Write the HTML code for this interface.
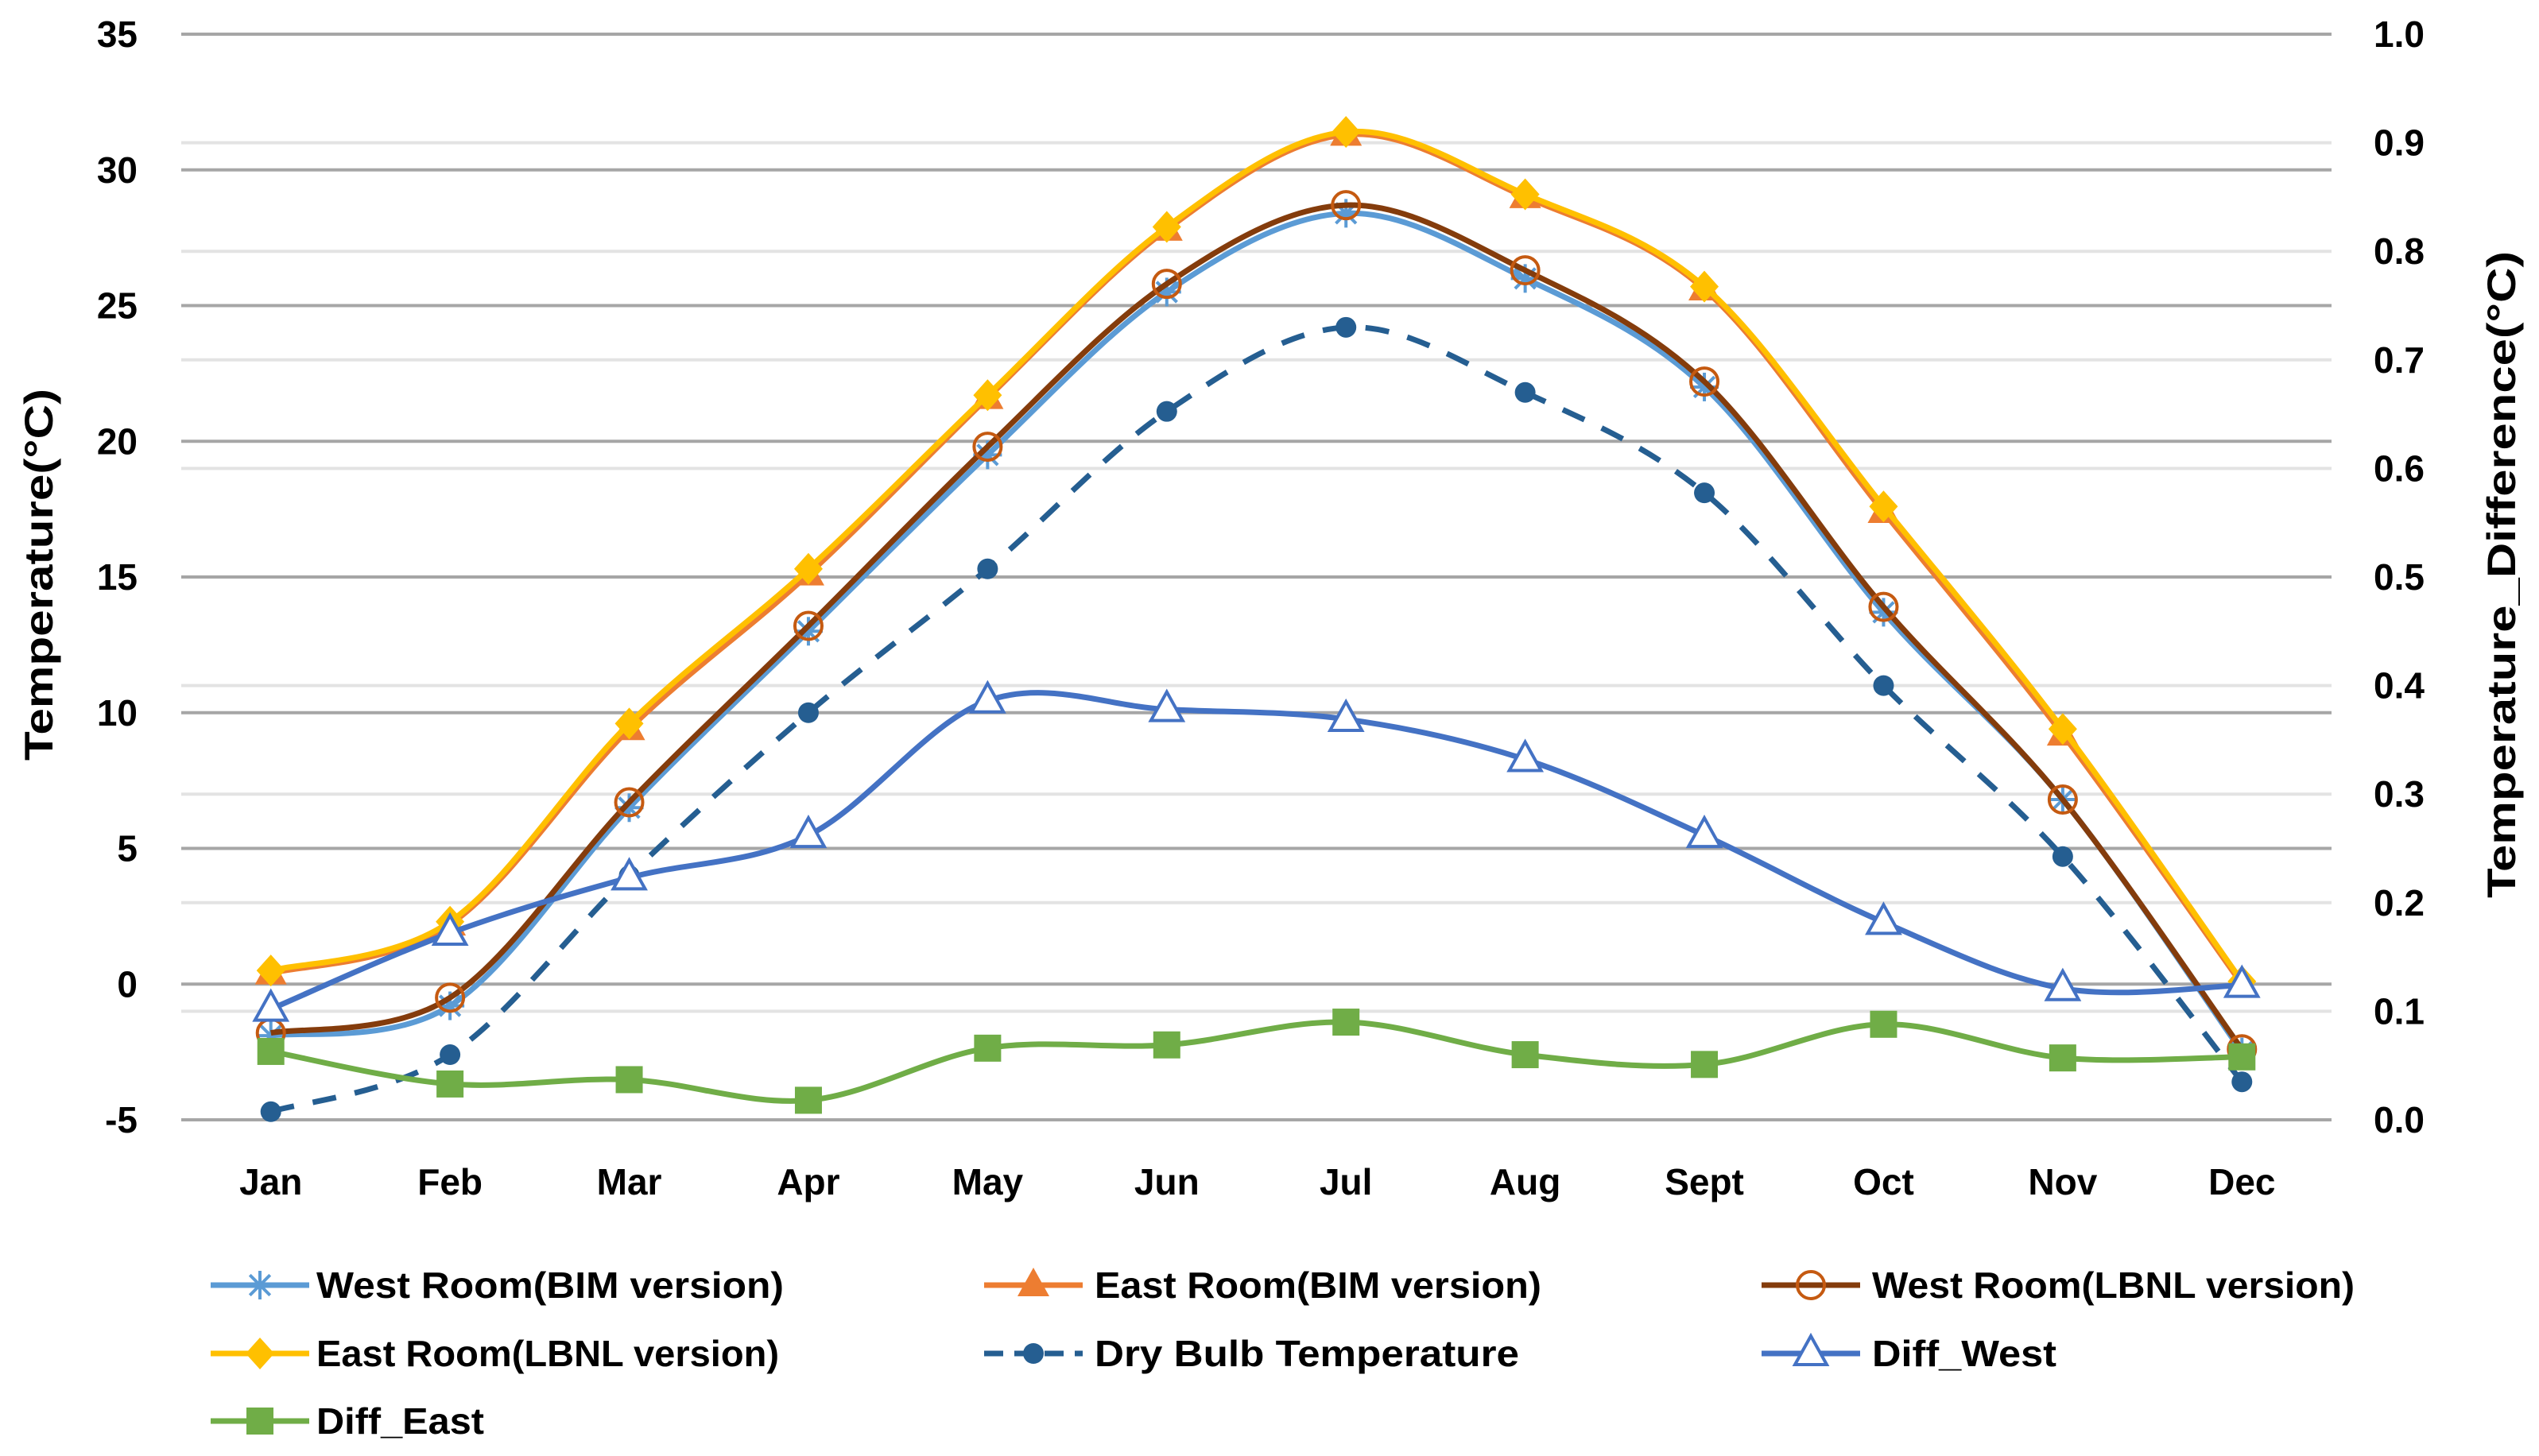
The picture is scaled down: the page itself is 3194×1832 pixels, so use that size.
<!DOCTYPE html>
<html><head><meta charset="utf-8"><style>
html,body{margin:0;padding:0;background:#fff;}
svg{display:block;font-family:"Liberation Sans",sans-serif;font-weight:bold;}
</style></head><body>
<svg id="chart" width="3194" height="1832" viewBox="0 0 3194 1832" xmlns="http://www.w3.org/2000/svg">
<g id="grid"></g>
<g id="axes"></g>
<g id="series"></g>
<g id="legend"></g>
<text x="0" y="0" transform="translate(66,723) rotate(-90)" text-anchor="middle" font-size="50" textLength="468" lengthAdjust="spacingAndGlyphs">Temperature(°C)</text>
<text x="0" y="0" transform="translate(3164,723) rotate(-90)" text-anchor="middle" font-size="50" textLength="814" lengthAdjust="spacingAndGlyphs">Temperature_Difference(°C)</text>
</svg>
<script>
const months = ["Jan","Feb","Mar","Apr","May","Jun","Jul","Aug","Sept","Oct","Nov","Dec"];
const westBIM = [-1.9,-0.8,6.5,13.0,19.5,25.5,28.4,26.0,22.0,13.7,6.8,-2.5];
const eastBIM = [0.4,2.2,9.4,15.1,21.6,27.8,31.3,29.0,25.6,17.4,9.2,0.0];
const westLBNL = [-1.8,-0.5,6.7,13.2,19.8,25.8,28.7,26.3,22.2,13.9,6.8,-2.4];
const eastLBNL = [0.5,2.3,9.6,15.3,21.7,27.9,31.4,29.1,25.7,17.6,9.4,0.1];
const dryBulb = [-4.7,-2.6,4.0,10.0,15.3,21.1,24.2,21.8,18.1,11.0,4.7,-3.6];
const diffWest = [0.102,0.172,0.223,0.262,0.386,0.378,0.369,0.332,0.262,0.182,0.121,0.124];
const diffEast = [0.063,0.033,0.037,0.018,0.066,0.069,0.090,0.060,0.051,0.088,0.057,0.058];
const leftTicks = [-5,0,5,10,15,20,25,30,35];
const rightTicks = [0.0,0.1,0.2,0.3,0.4,0.5,0.6,0.7,0.8,0.9,1.0];

const NS="http://www.w3.org/2000/svg";
const PL=228, PR=2933, PT=43, PB=1409;
const band=(PR-PL)/months.length;
const xs=i=>PL+band*(i+0.5);
const yL=v=>PB-(v-(-5))/40*(PB-PT);
const yR=v=>PB-v/1.0*(PB-PT);
function mk(tag,attrs,parent){const e=document.createElementNS(NS,tag);for(const k in attrs)e.setAttribute(k,attrs[k]);parent.appendChild(e);return e;}
const grid=document.getElementById('grid'),axes=document.getElementById('axes'),ser=document.getElementById('series'),leg=document.getElementById('legend');

rightTicks.forEach(v=>{
  const l=mk('line',{x1:PL,x2:PR,y1:yR(v),y2:yR(v),stroke:'#e3e3e3','stroke-width':4},grid);
  
  
  const t=mk('text',{x:2986,y:yR(v)+16,'font-size':46},axes);
  t.textContent=v.toFixed(1);
  
  
});
leftTicks.forEach(v=>{
  const l=mk('line',{x1:PL,x2:PR,y1:yL(v),y2:yL(v),stroke:'#a6a6a6','stroke-width':4},grid);
  
  
  const t=mk('text',{x:173,y:yL(v)+16,'font-size':46,'text-anchor':'end'},axes);
  t.textContent=v;
  
  
});
months.forEach((m,i)=>{
  const t=mk('text',{x:xs(i),y:1503,'font-size':46,'text-anchor':'middle'},axes);
  t.textContent=m;
  
  
});

function smooth(pts){
  let d=`M${pts[0][0]},${pts[0][1]}`;
  for(let i=0;i<pts.length-1;i++){
    const p0=pts[Math.max(0,i-1)],p1=pts[i],p2=pts[i+1],p3=pts[Math.min(pts.length-1,i+2)];
    const t=1/6;
    d+=` C${p1[0]+(p2[0]-p0[0])*t},${p1[1]+(p2[1]-p0[1])*t} ${p2[0]-(p3[0]-p1[0])*t},${p2[1]-(p3[1]-p1[1])*t} ${p2[0]},${p2[1]}`;
  }
  return d;
}
function marker(type,x,y,color,g){
  let e;
  if(type==='star'){
    e=mk('g',{stroke:color,'stroke-width':4},g);
    for(let a=0;a<4;a++){const r=a*Math.PI/4;mk('line',{x1:x-18*Math.cos(r),y1:y-18*Math.sin(r),x2:x+18*Math.cos(r),y2:y+18*Math.sin(r)},e);}
  }else if(type==='tri'){
    e=mk('polygon',{points:`${x},${y-22} ${x-20},${y+14} ${x+20},${y+14}`,fill:color},g);
  }else if(type==='triOpen'){
    e=mk('polygon',{points:`${x},${y-22} ${x-20},${y+14} ${x+20},${y+14}`,fill:'#fff',stroke:color,'stroke-width':4},g);
  }else if(type==='circOpen'){
    e=mk('circle',{cx:x,cy:y,r:17,fill:'none',stroke:color,'stroke-width':4},g);
  }else if(type==='diamond'){
    e=mk('polygon',{points:`${x},${y-20} ${x+18},${y} ${x},${y+20} ${x-18},${y}`,fill:color},g);
  }else if(type==='dot'){
    e=mk('circle',{cx:x,cy:y,r:13,fill:color},g);
  }else if(type==='square'){
    e=mk('rect',{x:x-17,y:y-17,width:34,height:34,fill:color},g);
  }
  return e;
}
const defs=[
  {name:'West Room(BIM version)',data:westBIM,ax:yL,color:'#5b9bd5',m:'star',dash:null,key:'west-bim'},
  {name:'East Room(BIM version)',data:eastBIM,ax:yL,color:'#ed7d31',m:'tri',dash:null,key:'east-bim'},
  {name:'West Room(LBNL version)',data:westLBNL,ax:yL,color:'#843c0c',m:'circOpen',mc:'#c55a11',dash:null,key:'west-lbnl'},
  {name:'East Room(LBNL version)',data:eastLBNL,ax:yL,color:'#ffc000',m:'diamond',dash:null,key:'east-lbnl'},
  {name:'Dry  Bulb Temperature',data:dryBulb,ax:yL,color:'#255e91',m:'dot',dash:'30 24',key:'dry-bulb'},
  {name:'Diff_West',data:diffWest,ax:yR,color:'#4472c4',m:'triOpen',dash:null,key:'diff-west'},
  {name:'Diff_East',data:diffEast,ax:yR,color:'#70ad47',m:'square',dash:null,key:'diff-east'}
];
defs.forEach(s=>{
  const g=mk('g',{},ser);
  
  
  const pts=s.data.map((v,i)=>[xs(i),s.ax(v)]);
  const p=mk('path',{d:smooth(pts),fill:'none',stroke:s.color,'stroke-width':7,'stroke-linejoin':'round'},g);
  if(s.dash)p.setAttribute('stroke-dasharray',s.dash);
  
  
  pts.forEach(pt=>{
    const e=marker(s.m,pt[0],pt[1],s.mc||s.color,g);
    
    
  });
});
const legPos=[[265,1617,398,588],[1238,1617,1377,562],[2216,1617,2355,607],[265,1703,398,582],[1238,1703,1377,534],[2216,1703,2355,232],[265,1788,398,211]];
defs.forEach((s,i)=>{
  const [lx,ly,tx,tw]=legPos[i];
  const g=mk('g',{},leg);
  
  
  const l=mk('line',{x1:lx,x2:lx+124,y1:ly,y2:ly,stroke:s.color,'stroke-width':7},g);
  if(s.dash)l.setAttribute('stroke-dasharray','24 14');
  marker(s.m,lx+62,ly,s.mc||s.color,g);
  const t=mk('text',{x:tx,y:ly+16,'font-size':46,textLength:tw,lengthAdjust:'spacingAndGlyphs'},g);
  t.textContent=s.name;
});
</script>
</body></html>
